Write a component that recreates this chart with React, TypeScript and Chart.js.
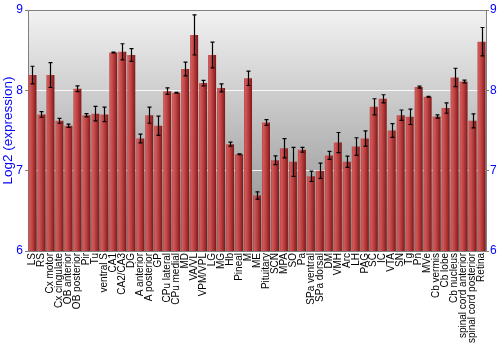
import React, { useEffect, useRef } from "react";
import { Chart, registerables } from "chart.js";

Chart.register(...registerables);

const categories: string[] = [
  "LS", "RS", "Cx motor", "Cx cingulate", "OB anterior", "OB posterior", "Pir", "Tu", "ventral S",
  "CA1", "CA2/CA3", "DG", "A anterior", "A posterior", "GP", "CPu lateral", "CPu medial", "MD",
  "VA/VL", "VPM/VPL", "LG", "MG", "Hb", "Pineal", "M", "ME", "Pituitary", "SCN", "MPA", "SO", "Pa",
  "SPa ventral", "SPa dorsal", "DM", "VMH", "Arc", "LH", "PAG", "SC", "IC", "VTA", "SN", "Tg", "Pn",
  "MVe", "Cb vermis", "Cb lobe", "Cb nucleus", "spinal cord anterior", "spinal cord posterior", "Retina",
];

const expression: number[] = [
  8.19, 7.70, 8.19, 7.62, 7.56, 8.02, 7.69, 7.71, 7.70,
  8.47, 8.48, 8.44, 7.40, 7.69, 7.56, 7.99, 7.97, 8.265,
  8.69, 8.09, 8.44, 8.03, 7.33, 7.205, 8.15, 6.69, 7.60, 7.13, 7.28, 7.11, 7.26,
  6.93, 7.00, 7.19, 7.35, 7.11, 7.30, 7.40, 7.795, 7.895, 7.50, 7.69, 7.67, 8.04,
  7.92, 7.675, 7.78, 8.16, 8.11, 7.62, 8.605,
];

const errors: number[] = [
  0.11, 0.035, 0.155, 0.03, 0.02, 0.035, 0.02, 0.09, 0.09,
  0.005, 0.1, 0.08, 0.055, 0.1, 0.12, 0.04, 0.005, 0.085,
  0.25, 0.035, 0.16, 0.05, 0.025, 0.005, 0.09, 0.045, 0.035, 0.055, 0.12, 0.18, 0.03,
  0.065, 0.095, 0.05, 0.125, 0.07, 0.11, 0.095, 0.1, 0.05, 0.085, 0.065, 0.095, 0.012,
  0.005, 0.02, 0.065, 0.115, 0.017, 0.087, 0.177,
];

const yTicks: number[] = [6, 7, 8, 9];

const FONT = "'Liberation Sans', Arial, sans-serif";
const BAR_PCT = 0.89;

const backgroundPlugin = {
  id: "bgGradient",
  beforeDraw(chart: any) {
    const { ctx, chartArea } = chart;
    if (!chartArea) return;
    const g = ctx.createLinearGradient(0, chartArea.top, 0, chartArea.bottom);
    g.addColorStop(0, "#f2f2f2");
    g.addColorStop(1, "#888888");
    ctx.save();
    ctx.fillStyle = g;
    ctx.fillRect(chartArea.left, chartArea.top, chartArea.right - chartArea.left, chartArea.bottom - chartArea.top);
    ctx.restore();
  },
};

const errorBarPlugin = {
  id: "errorBars",
  afterDatasetsDraw(chart: any) {
    const { ctx } = chart;
    const xs = chart.scales.x;
    const ys = chart.scales.y;
    ctx.save();
    ctx.strokeStyle = "#000000";
    ctx.lineWidth = 1.2;
    expression.forEach((v, i) => {
      const e = errors[i];
      const x = Math.round(xs.getPixelForValue(i)) + 0.5;
      const top = ys.getPixelForValue(v + e);
      const bot = ys.getPixelForValue(v - e);
      ctx.beginPath();
      ctx.moveTo(x, top);
      ctx.lineTo(x, bot);
      ctx.moveTo(x - 2, top);
      ctx.lineTo(x + 2, top);
      ctx.moveTo(x - 2, bot);
      ctx.lineTo(x + 2, bot);
      ctx.stroke();
    });
    ctx.restore();
  },
};

export default function App() {
  const ref = useRef<HTMLCanvasElement | null>(null);

  useEffect(() => {
    if (!ref.current) return;
    const chart = new Chart(ref.current, {
      type: "bar",
      data: {
        labels: categories,
        datasets: [
          {
            data: expression,
            barPercentage: BAR_PCT,
            categoryPercentage: 1.0,
            borderWidth: 0,
            backgroundColor: (c: any) => {
              const ch = c.chart;
              const xs = ch.scales && ch.scales.x;
              if (!ch.chartArea || !xs) return "#b03535";
              const x = xs.getPixelForValue(c.dataIndex);
              const hw = ((xs.right - xs.left) / categories.length) * BAR_PCT / 2;
              const g = ch.ctx.createLinearGradient(x - hw, 0, x + hw, 0);
              g.addColorStop(0, "#b84444");
              g.addColorStop(0.15, "#d05a5a");
              g.addColorStop(0.45, "#c04444");
              g.addColorStop(0.8, "#9a2828");
              g.addColorStop(1, "#7a1818");
              return g;
            },
          },
        ],
      },
      options: {
        responsive: false,
        animation: false,
        layout: { padding: { top: 10, left: 0, right: 0, bottom: 0 } },
        plugins: {
          legend: { display: false },
          tooltip: { enabled: false },
        },
        scales: {
          x: {
            type: "category",
            grid: { display: false, drawTicks: false },
            border: { display: true, color: "#808080" },
            ticks: {
              autoSkip: false,
              minRotation: 90,
              maxRotation: 90,
              padding: 2,
              color: "#000000",
              font: { family: FONT, size: 10 },
            },
            afterFit: (s: any) => {
              s.height = 99;
            },
          },
          y: {
            position: "left",
            min: 6,
            max: 9,
            afterBuildTicks: (s: any) => {
              s.ticks = yTicks.map((v) => ({ value: v }));
            },
            ticks: {
              stepSize: 1,
              color: "#0000ff",
              padding: 2,
              font: { family: FONT, size: 12 },
            },
            grid: {
              color: (c: any) => {
                const v = c.tick && c.tick.value;
                if (v === 9) return "#808080";
                if (v === 7 || v === 8) return "rgba(255,255,255,0.85)";
                return "rgba(0,0,0,0)";
              },
              tickColor: "#808080",
              tickLength: 3,
              lineWidth: 1,
            },
            border: { display: true, color: "#808080" },
            title: {
              display: true,
              text: "Log2 (expression)",
              color: "#0000ff",
              font: { family: FONT, size: 13.5 },
              padding: { top: 0, bottom: 0 },
            },
            afterFit: (s: any) => {
              s.width = 28;
            },
          },
          y2: {
            position: "right",
            min: 6,
            max: 9,
            afterBuildTicks: (s: any) => {
              s.ticks = yTicks.map((v) => ({ value: v }));
            },
            ticks: {
              stepSize: 1,
              color: "#0000ff",
              padding: 1,
              font: { family: FONT, size: 12 },
            },
            grid: { drawOnChartArea: false, tickColor: "#808080", tickLength: 3 },
            border: { display: true, color: "#808080" },
            afterFit: (s: any) => {
              s.width = 14;
            },
          },
        },
      },
      plugins: [backgroundPlugin, errorBarPlugin],
    } as any);
    return () => chart.destroy();
  }, []);

  return (
    <div style={{ position: "absolute", left: 0, top: 0, width: 500, height: 350, background: "#ffffff" }}>
      <canvas ref={ref} width={500} height={350} style={{ display: "block" }} />
    </div>
  );
}
